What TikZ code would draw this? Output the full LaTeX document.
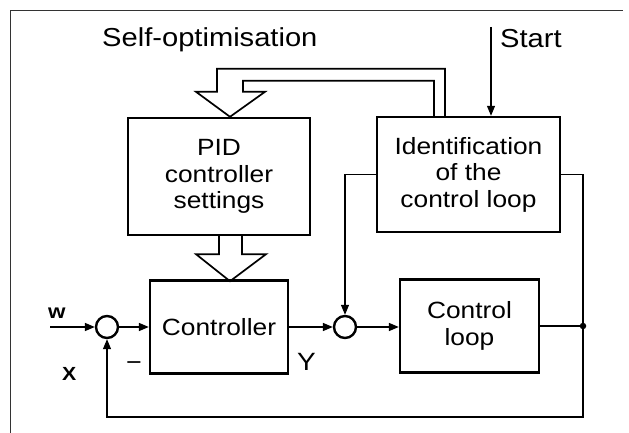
\documentclass[tikz,border=0pt]{standalone}
\usepackage{fontspec}
\setmainfont{Liberation Sans}[FakeStretch=1.12]
\usetikzlibrary{arrows.meta,calc}
\begin{document}
\begin{tikzpicture}[x=1pt,y=-1pt,
  box/.style={draw,line width=2.4pt,inner sep=0pt,align=center,font=\fontsize{23.5}{26.5}\selectfont},
  sumc/.style={draw,circle,line width=2.4pt,inner sep=0pt,minimum size=22pt},
  tip/.style={-{Triangle[length=10pt,width=8pt]}},
  sig/.style={line width=1.6pt,tip},
  thinline/.style={line width=1.1pt},
  frameline/.style={line width=0.9pt,black!80},
  hollow/.style={line width=1.7pt,line join=miter},
  lbl/.style={inner sep=0pt,anchor=base west}]
\path[fill=white] (0,0) rectangle (629,433);
\useasboundingbox (0,0) rectangle (629,433);
% frame
\draw[frameline] (10,433) -- (10,10) -- (623,10);
% blocks
\node[box,minimum width=182pt,minimum height=117pt] (pid) at (219,176.5) {PID\\controller\\settings};
\node[box,minimum width=183pt,minimum height=115pt] (ident) at (468.5,174.5) {Identification\\of the\\control loop};
\node[box,minimum width=138pt,minimum height=93pt] (ctrl) at (219,327) {Controller};
\node[box,minimum width=139pt,minimum height=93pt] (loop) at (469.5,326) {Control\\loop};
\node[sumc] (c1) at (107,327) {};
\node[sumc] (c2) at (345,327) {};
\node[circle,fill,inner sep=0pt,minimum size=6.5pt] (dot) at (583,326) {};
\coordinate (win) at (50,327);
\coordinate (startpt) at (491,27);
\coordinate (fbr) at (583,417);
\coordinate (fbl) at (107,417);
% texts
\node[lbl,font=\fontsize{26}{30}\selectfont] (selfopt) at (102,47) {Self-optimisation};
\node[lbl,font=\fontsize{26}{30}\selectfont] (start) at (500,48) {Start};
\node[lbl,font=\bfseries\fontsize{20}{22}\selectfont] (wl) at (48,318) {w};
\node[lbl,font=\bfseries\fontsize{19}{22}\selectfont] (xl) at (62,380) {X};
\node[lbl,font=\fontsize{24}{26}\selectfont] (minus) at (126,370) {−};
\node[lbl,font=\fontsize{25}{27}\selectfont] (yl) at (297,370) {Y};
% signal connectors
\draw[sig] (win) -- (c1);
\draw[sig] (c1) -- (ctrl.west |- c1);
\draw[sig] (ctrl.east |- c2) -- (c2);
\draw[sig] (c2) -- (loop.west |- c2);
\draw[line width=1.6pt] (loop.east |- dot) -- (dot);
\draw[thinline] (ident.east) -| (dot);
\draw[thinline,tip] (dot) -- (fbr) -- (fbl) -- (c1);
\draw[thinline,tip] (ident.west) -| (c2);
\draw[thinline,tip] (startpt) -- (startpt |- ident.north);
% hollow arrows
\draw[hollow] (pid.south) -- ++(0,18) -- ++(-23,0) -- ++(34,27) -- ++(36,-27) -- ++(-24,0) -- ++(0,-18);
\draw[hollow] ($(ident.north)+(-23.5,0)$) -- ++(0,-47) -- ++(-228,0) -- ++(0,23) -- ++(-21,0)
  -- ++(34,25) -- ++(35,-25) -- ++(-22,0) -- ++(0,-11) -- ++(191,0) -- ++(0,35);
\end{tikzpicture}
\end{document}
